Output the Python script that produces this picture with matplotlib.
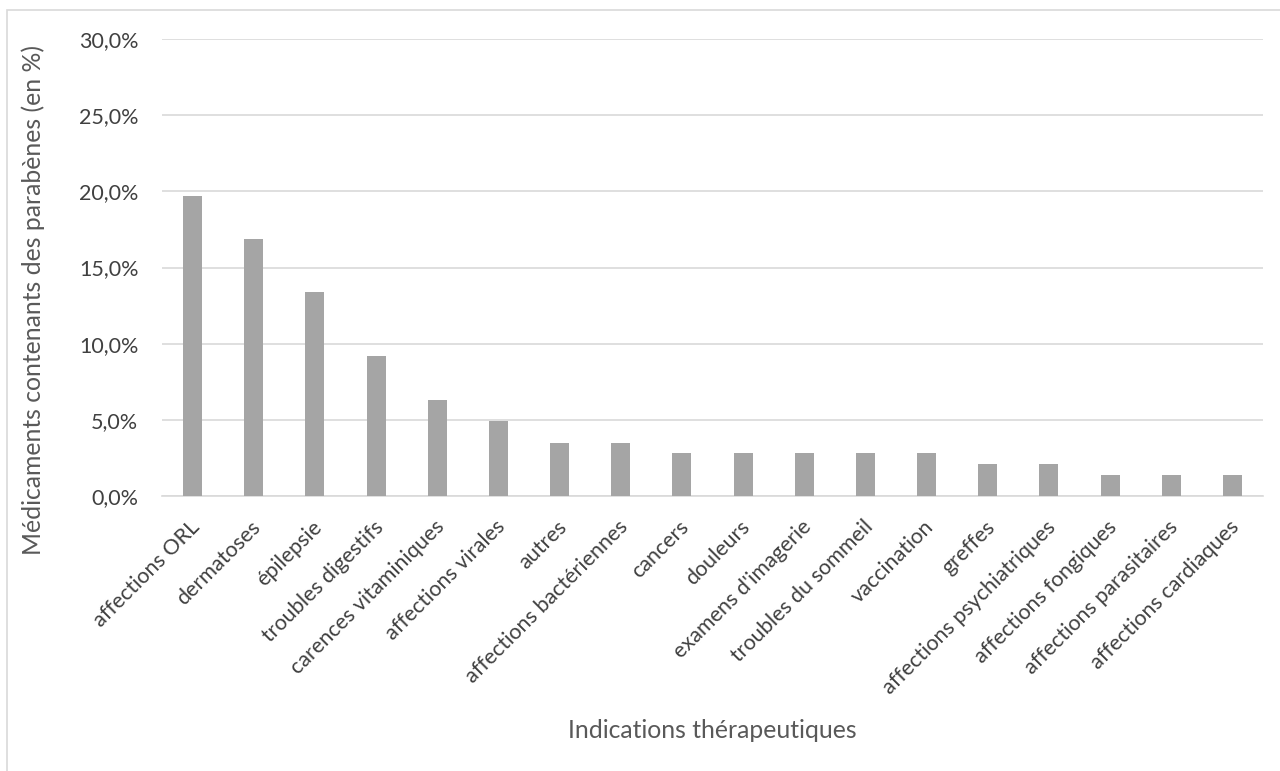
import matplotlib
matplotlib.use("Agg")
import matplotlib.pyplot as plt
from matplotlib.patches import Rectangle
from matplotlib.ticker import FuncFormatter
from matplotlib.transforms import ScaledTranslation

categories = [
    "affections ORL", "dermatoses", "épilepsie", "troubles digestifs",
    "carences vitaminiques", "affections virales", "autres",
    "affections bactériennes", "cancers", "douleurs", "examens d'imagerie",
    "troubles du sommeil", "vaccination", "greffes",
    "affections psychiatriques", "affections fongiques",
    "affections parasitaires", "affections cardiaques",
]
values = [19.7, 16.9, 13.4, 9.2, 6.3, 4.9, 3.5, 3.5, 2.8, 2.8, 2.8, 2.8,
          2.8, 2.1, 2.1, 1.4, 1.4, 1.4]
y_ticks = [0, 5, 10, 15, 20, 25, 30]

plt.rcParams["font.family"] = ["Lato", "DejaVu Sans"]

W, H = 1280, 771
fig = plt.figure(figsize=(W / 100, H / 100), dpi=100)
fig.patch.set_facecolor("white")

# outer chart frame
fig.patches.append(Rectangle((7 / W, -0.05), 1.1, 1 - 10 / H + 0.05,
                             transform=fig.transFigure, fill=False,
                             edgecolor="#d9d9d9", linewidth=1.2))

ax = fig.add_axes([162 / W, 1 - 496 / H, (1263 - 162) / W, (496 - 39) / H])
x = range(len(categories))
ax.bar(x, values, width=0.31, color="#a5a5a5", zorder=3)

ax.set_xlim(-0.5, len(categories) - 0.5)
ax.set_ylim(0, 30)
ax.set_yticks(y_ticks)
ax.yaxis.set_major_formatter(FuncFormatter(lambda v, p: f"{v:.1f}%".replace(".", ",")))
ax.grid(axis="y", color="#d9d9d9", linewidth=1.2, zorder=0)
for s in ["top", "right", "left"]:
    ax.spines[s].set_visible(False)
ax.spines["bottom"].set_color("#d9d9d9")
ax.spines["bottom"].set_linewidth(1.2)
ax.tick_params(axis="both", length=0, labelsize=15.5, labelcolor="#404040")
ax.tick_params(axis="y", pad=17)

ax.set_xticks(list(x))
ax.set_xticklabels(categories, rotation=45, ha="right", rotation_mode="anchor")
ax.tick_params(axis="x", pad=15)
shift = ScaledTranslation(-3 / 100, 0, fig.dpi_scale_trans)
for lbl in ax.get_xticklabels():
    lbl.set_transform(lbl.get_transform() + shift)

fig.text(33 / W, 1 - 300 / H, "Médicaments contenants des parabènes (en %)",
         rotation=90, ha="center", va="center", fontsize=17.8, color="#595959")
fig.text(712 / W, 1 - 730 / H, "Indications thérapeutiques",
         ha="center", va="center", fontsize=17.8, color="#595959")

fig.savefig("out.png", dpi=100)
